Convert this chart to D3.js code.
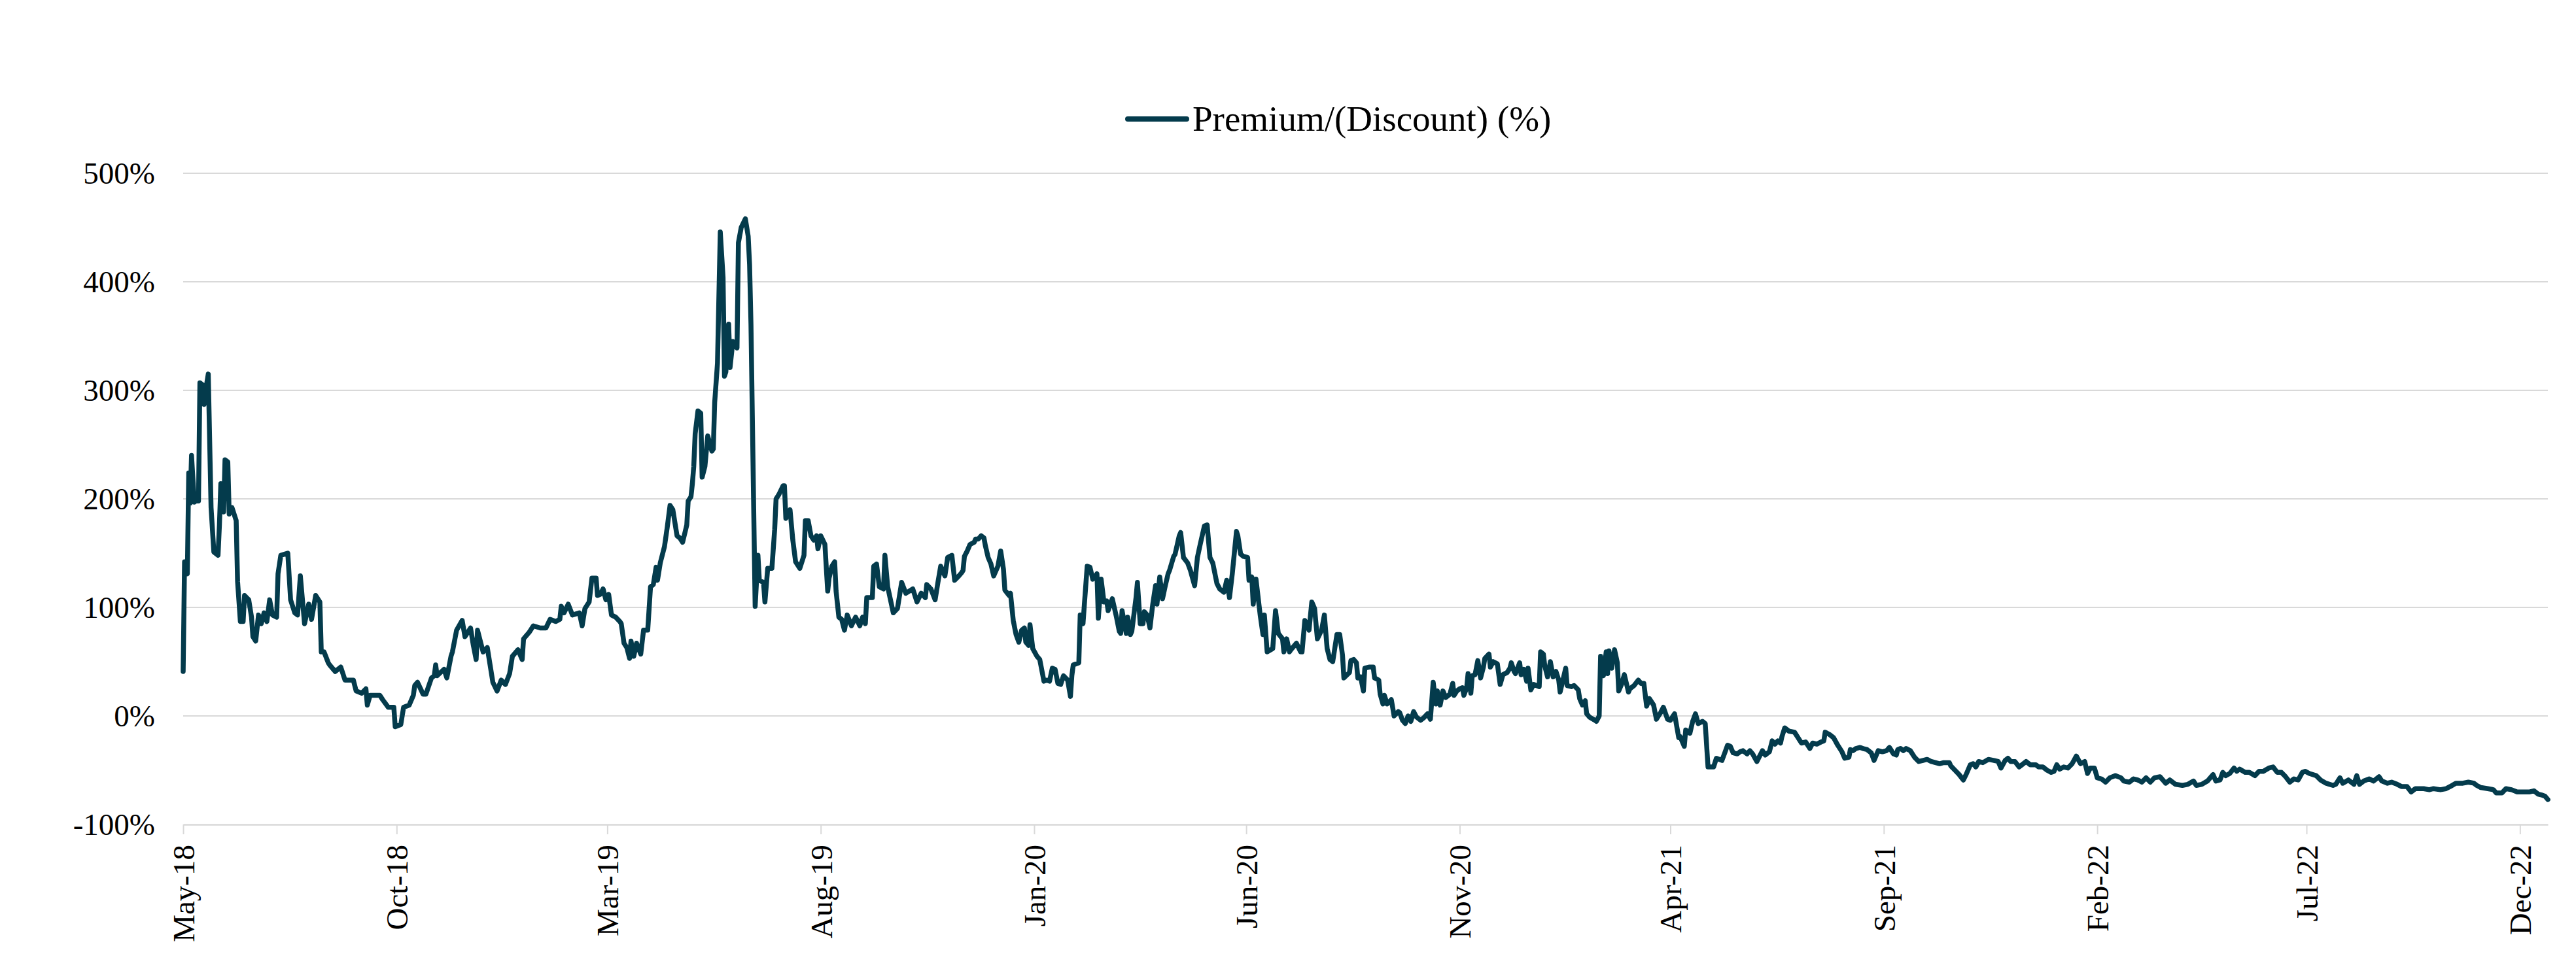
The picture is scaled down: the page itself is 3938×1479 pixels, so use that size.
<!DOCTYPE html>
<html><head><meta charset="utf-8">
<script src="https://cdn.jsdelivr.net/npm/d3@7"></script>
<style>html,body{margin:0;padding:0;background:#fff;} svg{display:block;}</style>
</head><body>
<svg id="chart" width="3938" height="1479"></svg>
<script>
// ---------- DATA ----------
const seriesName = "Premium/(Discount) (%)";
const dates = [
"2018-05-01","2018-05-02","2018-05-03","2018-05-04","2018-05-05","2018-05-06","2018-05-07","2018-05-09","2018-05-10","2018-05-12","2018-05-13","2018-05-15","2018-05-16","2018-05-18","2018-05-19","2018-05-21","2018-05-23","2018-05-26","2018-05-27","2018-05-28","2018-05-30","2018-05-31",
"2018-06-02","2018-06-03","2018-06-05","2018-06-08","2018-06-09","2018-06-11","2018-06-13","2018-06-14","2018-06-17","2018-06-19","2018-06-20","2018-06-22","2018-06-24","2018-06-26","2018-06-28","2018-06-30",
"2018-07-02","2018-07-04","2018-07-07","2018-07-08","2018-07-10","2018-07-15","2018-07-17","2018-07-20","2018-07-22","2018-07-24","2018-07-27","2018-07-30",
"2018-08-01","2018-08-04","2018-08-07","2018-08-08","2018-08-10","2018-08-13","2018-08-14","2018-08-18","2018-08-22","2018-08-25","2018-08-31",
"2018-09-02","2018-09-06","2018-09-09","2018-09-10","2018-09-12","2018-09-19","2018-09-21","2018-09-25","2018-09-29","2018-09-30",
"2018-10-04","2018-10-06","2018-10-10","2018-10-13","2018-10-14","2018-10-16","2018-10-20","2018-10-22","2018-10-26","2018-10-28","2018-10-29","2018-10-30",
"2018-11-04","2018-11-06","2018-11-09","2018-11-10","2018-11-13","2018-11-17","2018-11-19","2018-11-23","2018-11-25","2018-11-27","2018-11-28",
"2018-12-02","2018-12-05","2018-12-09","2018-12-12","2018-12-15","2018-12-18","2018-12-21","2018-12-23","2018-12-27","2018-12-30","2018-12-31",
"2019-01-04","2019-01-07","2019-01-12","2019-01-16","2019-01-19","2019-01-23","2019-01-26","2019-01-27","2019-01-29",
"2019-02-01","2019-02-04","2019-02-09","2019-02-11","2019-02-13","2019-02-16","2019-02-18","2019-02-21","2019-02-22","2019-02-24","2019-02-26","2019-02-28",
"2019-03-02","2019-03-04","2019-03-07","2019-03-10","2019-03-11","2019-03-13","2019-03-15","2019-03-17","2019-03-18","2019-03-20","2019-03-22","2019-03-25","2019-03-27","2019-03-30",
"2019-04-01","2019-04-03","2019-04-05","2019-04-06","2019-04-08","2019-04-11","2019-04-13","2019-04-15","2019-04-17","2019-04-20","2019-04-22","2019-04-24","2019-04-27","2019-04-28","2019-04-30",
"2019-05-01","2019-05-02","2019-05-03","2019-05-05","2019-05-07","2019-05-08","2019-05-10","2019-05-12","2019-05-15","2019-05-16","2019-05-17","2019-05-19","2019-05-21","2019-05-23","2019-05-24","2019-05-25","2019-05-27","2019-05-28","2019-05-30",
"2019-06-02","2019-06-03","2019-06-05","2019-06-08","2019-06-10","2019-06-11","2019-06-12","2019-06-15","2019-06-17","2019-06-18","2019-06-21","2019-06-22","2019-06-24","2019-06-27","2019-06-29","2019-06-30",
"2019-07-02","2019-07-05","2019-07-06","2019-07-07","2019-07-10","2019-07-12","2019-07-14","2019-07-17","2019-07-20","2019-07-21","2019-07-23","2019-07-25","2019-07-27","2019-07-29","2019-07-30",
"2019-08-01","2019-08-04","2019-08-06","2019-08-07","2019-08-09","2019-08-11","2019-08-12","2019-08-14","2019-08-16","2019-08-18","2019-08-20","2019-08-23","2019-08-26","2019-08-29","2019-08-31",
"2019-09-02","2019-09-03","2019-09-07","2019-09-08","2019-09-10","2019-09-12","2019-09-15","2019-09-16","2019-09-18","2019-09-20","2019-09-22","2019-09-25","2019-09-28",
"2019-10-01","2019-10-06","2019-10-09","2019-10-12","2019-10-15","2019-10-16","2019-10-19","2019-10-22","2019-10-24","2019-10-26","2019-10-29","2019-10-31",
"2019-11-03","2019-11-05","2019-11-08","2019-11-10","2019-11-11","2019-11-12","2019-11-14","2019-11-16","2019-11-19","2019-11-20","2019-11-22","2019-11-24","2019-11-26","2019-11-27","2019-11-29",
"2019-12-01","2019-12-03","2019-12-06","2019-12-08","2019-12-10","2019-12-11","2019-12-14","2019-12-15","2019-12-17","2019-12-19","2019-12-21","2019-12-23","2019-12-25","2019-12-26","2019-12-28","2019-12-29","2019-12-31",
"2020-01-03","2020-01-05","2020-01-08","2020-01-10","2020-01-12","2020-01-14","2020-01-16","2020-01-18","2020-01-20","2020-01-22","2020-01-25","2020-01-27","2020-01-28","2020-01-29",
"2020-02-02","2020-02-03","2020-02-05","2020-02-06","2020-02-08","2020-02-10","2020-02-12","2020-02-14","2020-02-15","2020-02-16","2020-02-18","2020-02-20","2020-02-22","2020-02-23","2020-02-26","2020-02-29",
"2020-03-02","2020-03-03","2020-03-04","2020-03-07","2020-03-08","2020-03-10","2020-03-11","2020-03-14","2020-03-15","2020-03-17","2020-03-19","2020-03-20","2020-03-22","2020-03-24","2020-03-26","2020-03-28","2020-03-29","2020-03-31",
"2020-04-02","2020-04-04","2020-04-06","2020-04-07","2020-04-10","2020-04-11","2020-04-14","2020-04-15","2020-04-17","2020-04-20","2020-04-22","2020-04-25","2020-04-27","2020-04-29",
"2020-05-02","2020-05-04","2020-05-06","2020-05-08","2020-05-11","2020-05-13","2020-05-16","2020-05-18","2020-05-20","2020-05-22","2020-05-25","2020-05-26","2020-05-28","2020-05-30",
"2020-06-02","2020-06-03","2020-06-05","2020-06-06","2020-06-08","2020-06-11","2020-06-13","2020-06-14","2020-06-16","2020-06-20","2020-06-22","2020-06-24","2020-06-27","2020-06-28","2020-06-30",
"2020-07-02","2020-07-03","2020-07-07","2020-07-10","2020-07-11","2020-07-13","2020-07-15","2020-07-16","2020-07-18","2020-07-20","2020-07-22","2020-07-25","2020-07-27","2020-07-29","2020-07-31",
"2020-08-02","2020-08-05","2020-08-07","2020-08-09","2020-08-10","2020-08-14","2020-08-15","2020-08-17","2020-08-19","2020-08-20","2020-08-22","2020-08-24","2020-08-25","2020-08-28","2020-08-31",
"2020-09-01","2020-09-04","2020-09-05","2020-09-07","2020-09-08","2020-09-10","2020-09-13","2020-09-15","2020-09-18","2020-09-19","2020-09-21","2020-09-23","2020-09-25","2020-09-27","2020-09-29",
"2020-10-01","2020-10-04","2020-10-06","2020-10-09","2020-10-11","2020-10-13","2020-10-15","2020-10-16","2020-10-18","2020-10-20","2020-10-22","2020-10-25","2020-10-27","2020-10-28","2020-10-30",
"2020-11-01","2020-11-03","2020-11-04","2020-11-06","2020-11-07","2020-11-09","2020-11-10","2020-11-12","2020-11-14","2020-11-16","2020-11-18","2020-11-19","2020-11-22","2020-11-23","2020-11-25","2020-11-28","2020-11-30",
"2020-12-02","2020-12-05","2020-12-07","2020-12-08","2020-12-10","2020-12-11","2020-12-14","2020-12-15","2020-12-17","2020-12-19","2020-12-20","2020-12-22","2020-12-24","2020-12-26","2020-12-28","2020-12-29","2020-12-31",
"2021-01-01","2021-01-03","2021-01-05","2021-01-07","2021-01-09","2021-01-11","2021-01-12","2021-01-14","2021-01-16","2021-01-17","2021-01-20","2021-01-22","2021-01-25","2021-01-26","2021-01-28","2021-01-30","2021-01-31",
"2021-02-02","2021-02-06","2021-02-07","2021-02-09","2021-02-10","2021-02-12","2021-02-14","2021-02-15","2021-02-16","2021-02-18","2021-02-20","2021-02-22","2021-02-23","2021-02-25","2021-02-27",
"2021-03-02","2021-03-03","2021-03-06","2021-03-09","2021-03-11","2021-03-13","2021-03-15","2021-03-17","2021-03-20","2021-03-22","2021-03-25","2021-03-27","2021-03-30",
"2021-04-01","2021-04-04","2021-04-07","2021-04-08","2021-04-11","2021-04-12","2021-04-15","2021-04-17","2021-04-19","2021-04-21","2021-04-24","2021-04-26","2021-04-28",
"2021-05-02","2021-05-04","2021-05-08","2021-05-10","2021-05-12","2021-05-14","2021-05-16","2021-05-19","2021-05-21","2021-05-23","2021-05-26","2021-05-28","2021-05-30",
"2021-06-02","2021-06-06","2021-06-08","2021-06-11","2021-06-13","2021-06-15","2021-06-17","2021-06-19","2021-06-20","2021-06-22","2021-06-25","2021-06-29",
"2021-07-01","2021-07-04","2021-07-07","2021-07-10","2021-07-12","2021-07-15","2021-07-18","2021-07-20","2021-07-21","2021-07-24","2021-07-27","2021-07-30",
"2021-08-02","2021-08-04","2021-08-07","2021-08-08","2021-08-10","2021-08-12","2021-08-15","2021-08-17","2021-08-20","2021-08-23","2021-08-25","2021-08-28","2021-08-31",
"2021-09-03","2021-09-05","2021-09-08","2021-09-10","2021-09-11","2021-09-13","2021-09-15","2021-09-17","2021-09-20","2021-09-23","2021-09-26","2021-09-29",
"2021-10-02","2021-10-05","2021-10-08","2021-10-11","2021-10-14","2021-10-18","2021-10-19","2021-10-22","2021-10-25","2021-10-28","2021-10-30",
"2021-11-02","2021-11-04","2021-11-06","2021-11-08","2021-11-11","2021-11-15","2021-11-19","2021-11-22","2021-11-24","2021-11-27","2021-11-29",
"2021-12-01","2021-12-04","2021-12-07","2021-12-09","2021-12-12","2021-12-15","2021-12-19","2021-12-21","2021-12-24","2021-12-27","2021-12-30",
"2022-01-01","2022-01-03","2022-01-05","2022-01-08","2022-01-11","2022-01-14","2022-01-17","2022-01-20","2022-01-23","2022-01-25","2022-01-27","2022-01-30",
"2022-02-01","2022-02-04","2022-02-07","2022-02-10","2022-02-14","2022-02-18","2022-02-20","2022-02-24","2022-02-27",
"2022-03-02","2022-03-05","2022-03-08","2022-03-11","2022-03-14","2022-03-18","2022-03-22","2022-03-25","2022-03-29",
"2022-04-03","2022-04-07","2022-04-11","2022-04-13","2022-04-17","2022-04-21","2022-04-25","2022-04-27","2022-04-30",
"2022-05-02","2022-05-04","2022-05-07","2022-05-10","2022-05-12","2022-05-14","2022-05-18","2022-05-21","2022-05-25","2022-05-28","2022-05-31",
"2022-06-04","2022-06-07","2022-06-10","2022-06-13","2022-06-16","2022-06-19","2022-06-22","2022-06-25","2022-06-28","2022-06-30",
"2022-07-03","2022-07-08","2022-07-11","2022-07-15","2022-07-20","2022-07-22","2022-07-25","2022-07-27","2022-07-31",
"2022-08-04","2022-08-06","2022-08-08","2022-08-11","2022-08-15","2022-08-18","2022-08-22","2022-08-24","2022-08-28","2022-08-31",
"2022-09-04","2022-09-07","2022-09-11","2022-09-14","2022-09-17","2022-09-23","2022-09-27","2022-09-30",
"2022-10-05","2022-10-09","2022-10-12","2022-10-16","2022-10-21","2022-10-25","2022-10-29","2022-10-31",
"2022-11-03","2022-11-08","2022-11-12","2022-11-14","2022-11-18","2022-11-21","2022-11-25","2022-11-29",
"2022-12-03","2022-12-08","2022-12-11","2022-12-14","2022-12-17","2022-12-19","2022-12-21"
];
const premium = [
41,142,133,131,224,196,240,197,198,198,307,305,287,307,315,192,151,148,176,214,188,236,
234,186,192,180,124,87,87,111,107,91,73,69,93,85,95,87,
107,93,91,131,148,150,107,95,93,129,85,103,
89,111,105,59,59,49,47,41,45,33,33,
23,21,25,10,19,19,15,8,8,-10,
-8,8,10,19,28,31,20,20,35,37,47,37,
43,35,55,59,79,88,73,81,65,52,79,
59,63,31,23,33,29,39,55,61,52,71,
77,83,81,81,89,87,89,101,95,
103,93,95,83,99,105,127,127,111,112,117,107,
112,93,91,87,85,67,63,53,69,55,67,57,79,79,
119,121,137,125,141,156,174,194,190,166,164,160,176,198,202,
214,230,260,281,279,220,230,258,244,246,289,325,446,404,313,317,361,321,345,
339,436,450,458,442,416,361,101,148,125,123,105,136,136,172,200,
204,212,212,182,190,162,142,136,148,180,180,166,162,166,154,
166,158,115,127,138,142,115,91,89,79,93,83,91,83,91,
85,109,109,138,140,119,117,148,119,107,95,99,123,
113,117,105,113,109,121,117,107,123,138,129,146,
148,125,129,132,134,147,152,158,160,163,163,166,164,157,146,
140,129,138,152,135,116,111,113,88,75,68,79,81,68,65,84,62,
55,52,32,33,32,44,43,30,29,37,33,18,37,47,
49,93,85,103,138,137,126,129,131,90,126,105,106,97,108,91,
78,76,97,76,91,75,78,109,123,85,85,96,93,81,103,120,103,128,
108,120,131,134,147,149,166,169,146,141,134,120,146,158,
175,176,146,141,122,117,114,125,109,131,170,166,149,147,
146,125,128,103,126,93,75,93,59,62,97,76,71,59,71,
59,61,67,59,59,88,84,79,105,99,71,79,93,62,52,
50,75,75,56,35,40,51,52,49,35,36,23,44,45,45,
35,33,20,11,19,11,15,0,4,3,-4,-7,0,-5,4,
-1,-4,-2,2,-3,31,11,23,10,23,17,20,30,19,23,
25,26,19,26,39,21,37,38,51,35,45,53,57,45,50,48,29,
38,40,44,49,41,39,49,38,43,32,44,24,29,28,27,59,57,
46,36,50,36,41,33,22,33,44,28,27,28,24,16,10,14,2,
-1,-4,-5,0,55,37,59,39,60,44,61,49,23,29,38,
22,25,28,33,30,30,9,16,10,-3,3,8,-3,
-4,2,-20,-19,-28,-13,-16,-5,2,-7,-5,-7,-47,
-47,-39,-41,-34,-27,-28,-34,-35,-33,-32,-35,-32,-35,
-42,-32,-36,-33,-23,-26,-23,-25,-19,-11,-14,-15,
-19,-25,-24,-30,-25,-26,-24,-23,-15,-17,-20,-27,
-33,-39,-38,-31,-32,-30,-29,-30,-31,-34,-41,-32,-33,
-32,-29,-35,-36,-31,-30,-32,-30,-32,-38,-42,-41,
-40,-42,-43,-44,-43,-43,-46,-50,-54,-59,-54,
-45,-44,-47,-42,-43,-40,-41,-42,-48,-41,-39,
-42,-42,-47,-45,-42,-45,-45,-47,-47,-50,-52,
-51,-45,-49,-47,-48,-44,-37,-44,-42,-53,-48,-48,
-57,-58,-61,-57,-55,-57,-60,-61,-58,
-59,-61,-57,-61,-57,-56,-62,-59,-63,
-64,-63,-60,-64,-63,-60,-54,-60,-59,
-52,-55,-53,-48,-51,-49,-52,-52,-55,-51,-51,
-48,-47,-52,-52,-56,-61,-58,-59,-52,-51,
-53,-55,-59,-62,-64,-63,-57,-62,-59,
-63,-55,-63,-60,-58,-60,-56,-60,-62,-61,
-63,-65,-65,-70,-67,-67,-68,-67,
-68,-67,-65,-62,-62,-61,-62,-64,
-66,-67,-68,-71,-71,-67,-68,-70,
-70,-70,-69,-72,-73,-74,-77
];
const yTickValues = [-100, 0, 100, 200, 300, 400, 500];
const xTickDates = ["2018-05-01","2018-10-01","2019-03-01","2019-08-01","2020-01-01","2020-06-01","2020-11-01","2021-04-01","2021-09-01","2022-02-01","2022-07-01","2022-12-01"];
const xTickLabels = ["May-18","Oct-18","Mar-19","Aug-19","Jan-20","Jun-20","Nov-20","Apr-21","Sep-21","Feb-22","Jul-22","Dec-22"];
const axisStart = "2018-05-01", axisEnd = "2022-12-21";

// ---------- CHART ----------
const parse = d3.utcParse("%Y-%m-%d");
const n = Math.min(dates.length, premium.length);
const data = d3.range(n).map(i => ({date: parse(dates[i]), v: premium[i]}));

const svg = d3.select("#chart");
const FONT = "'Liberation Serif','Times New Roman',serif";
const lineColor = "#043b4c";
const gridColor = "#d9d9d9";

const x = d3.scaleUtc().domain([parse(axisStart), parse(axisEnd)]).range([280, 3895]);
const y = d3.scaleLinear().domain([-100, 500]).range([1261, 265]);

svg.append("rect").attr("width", 3938).attr("height", 1479).attr("fill", "#fff");

// gridlines
svg.append("g").selectAll("line").data(yTickValues.filter(d => d !== -100)).join("line")
  .attr("x1", 280).attr("x2", 3895)
  .attr("y1", d => y(d)).attr("y2", d => y(d))
  .attr("stroke", gridColor).attr("stroke-width", 2);

// y axis labels
const yAxis = d3.axisLeft(y).tickValues(yTickValues).tickFormat(d => d + "%").tickSize(0).tickPadding(43);
const gy = svg.append("g").attr("transform", "translate(280,0)").call(yAxis);
gy.select(".domain").remove();
gy.selectAll("text").attr("font-family", FONT).attr("font-size", 47).attr("fill", "#000").attr("dy", "0.33em");

// x axis
const xAxis = d3.axisBottom(x).tickValues(xTickDates.map(parse)).tickFormat((d, i) => xTickLabels[i]).tickSize(15).tickSizeOuter(0);
const gx = svg.append("g").attr("transform", `translate(0,${y(-100)})`).call(xAxis);
gx.select(".domain").attr("stroke", gridColor).attr("stroke-width", 2.5);
gx.selectAll(".tick line").attr("stroke", gridColor).attr("stroke-width", 2);
gx.selectAll("text")
  .attr("font-family", FONT).attr("font-size", 47).attr("fill", "#000")
  .attr("text-anchor", "end")
  .attr("transform", "rotate(-90)")
  .attr("x", -31).attr("y", 0).attr("dy", "0.35em");

// series line
const line = d3.line().x(d => x(d.date)).y(d => y(d.v));
svg.append("path").datum(data)
  .attr("d", line)
  .attr("fill", "none")
  .attr("stroke", lineColor)
  .attr("stroke-width", 7.5)
  .attr("stroke-linejoin", "round")
  .attr("stroke-linecap", "round");

// legend
const lg = svg.append("g");
lg.append("line").attr("x1", 1724).attr("x2", 1814).attr("y1", 182).attr("y2", 182)
  .attr("stroke", lineColor).attr("stroke-width", 8).attr("stroke-linecap", "round");
lg.append("text").attr("x", 1823).attr("y", 200)
  .attr("font-family", FONT).attr("font-size", 55).attr("fill", "#000")
  .text(seriesName);
</script>
</body></html>
